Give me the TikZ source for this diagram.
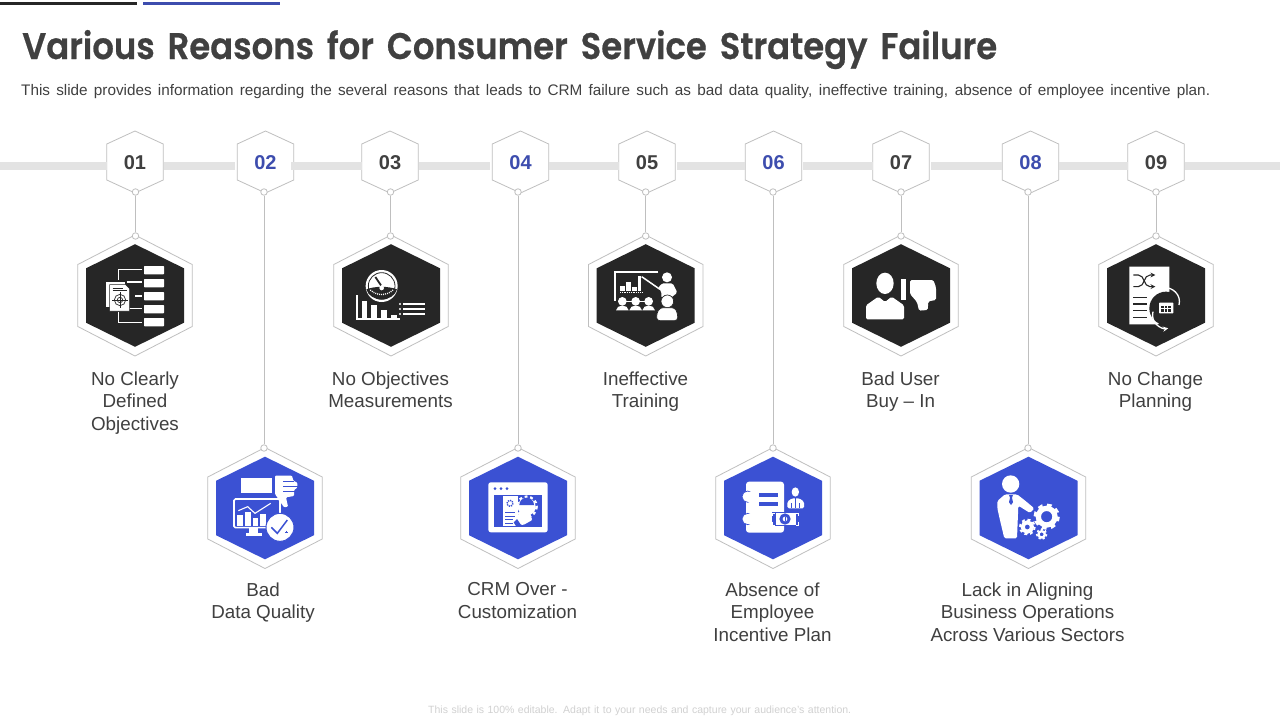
\documentclass[tikz,border=0pt]{standalone}
\usepackage{graphicx}
\usepackage{fontspec}
\setmainfont{Liberation Sans}
\newfontfamily\titlefont[WordSpace=1.6,FakeBold=0.6]{Poppins SemiBold}
\usetikzlibrary{positioning}

\definecolor{inkgray}{HTML}{404040}
\definecolor{linegray}{HTML}{BFBFBF}
\definecolor{bargray}{HTML}{E3E3E3}
\definecolor{darkfill}{HTML}{262626}
\definecolor{bluefill}{HTML}{3B51D3}
\definecolor{numblue}{HTML}{3D4DAE}

\tikzset{
  hexline/.style={draw=linegray,line width=.8pt,fill=white},
  pics/smallhex/.style={code={
    \path[hexline] (0,-31) -- (28.2,-18) -- (28.2,18) -- (0,31) -- (-28.2,18) -- (-28.2,-18) -- cycle;
  }},
  pics/bighex/.style={code={
    \path[hexline] (0,-60.5) -- (57.2,-31) -- (57.2,31) -- (0,60.5) -- (-57.2,31) -- (-57.2,-31) -- cycle;
    \fill[#1] (0,-51.3) -- (49,-27.2) -- (49,27.2) -- (0,51.3) -- (-49,27.2) -- (-49,-27.2) -- cycle;
  }},
  barseg/.style={bargray,line width=7.7pt},
  darknum/.style={font=\fontsize{20}{24}\selectfont\bfseries,text=inkgray},
  bluenum/.style={font=\fontsize{20}{24}\selectfont\bfseries,text=numblue},
  dot/.style={circle,draw=linegray,line width=.8pt,fill=white,minimum size=6.5pt,inner sep=0pt},
  reason/.style={align=center,anchor=north,text=inkgray,font=\fontsize{18.8}{22.6}\selectfont},
  wire/.style={draw=linegray,line width=.8pt},
  icon/.style={scale=1/3},
}

\begin{document}
\begin{tikzpicture}[x=1pt,y=-1pt]
  \useasboundingbox (0,0) rectangle (1280,720);
  \fill[white] (0,0) rectangle (1280,720);

  % top marks
  \fill[darkfill] (0,2.3) rectangle (137,5);
  \fill[numblue] (143,2.3) rectangle (280,5);

  % heading
  \node[anchor=base west,text=inkgray,inner sep=0pt] (title) at (22,59)
    {\resizebox{975pt}{\height}{\titlefont\fontsize{37}{42}\selectfont Various Reasons for Consumer Service Strategy Failure}};
  \node[anchor=base west,text=inkgray,inner sep=0pt] (subtitle) at (21,95.5)
    {\makebox[1189pt][s]{\fontsize{15.3}{18}\selectfont This slide provides information regarding the several reasons that leads to CRM failure such as bad data quality, ineffective training, absence of employee incentive plan.}};

  % number hexagons
  \path (135,162) pic {smallhex};
  \path (265.5,162) pic {smallhex};
  \path (390,162) pic {smallhex};
  \path (520.5,162) pic {smallhex};
  \path (647,162) pic {smallhex};
  \path (773.5,162) pic {smallhex};
  \path (901,162) pic {smallhex};
  \path (1030.5,162) pic {smallhex};
  \path (1156,162) pic {smallhex};

  % timeline bar
  \path[barseg,draw] (0,166) -- (107,166);
  \path[barseg,draw] (164,166) -- (235,166);
  \path[barseg,draw] (291,166) -- (362,166);
  \path[barseg,draw] (419,166) -- (490,166);
  \path[barseg,draw] (549,166) -- (619,166);
  \path[barseg,draw] (677,166) -- (745,166);
  \path[barseg,draw] (803,166) -- (873,166);
  \path[barseg,draw] (931,166) -- (1002,166);
  \path[barseg,draw] (1059,166) -- (1128,166);
  \path[barseg,draw] (1185,166) -- (1280,166);

  \node[darknum] (n1) at (135,163) {01};
  \node[bluenum] (n2) at (265.5,163) {02};
  \node[darknum] (n3) at (390,163) {03};
  \node[bluenum] (n4) at (520.5,163) {04};
  \node[darknum] (n5) at (647,163) {05};
  \node[bluenum] (n6) at (773.5,163) {06};
  \node[darknum] (n7) at (901,163) {07};
  \node[bluenum] (n8) at (1030.5,163) {08};
  \node[darknum] (n9) at (1156,163) {09};

  % picture hexagons
  \path (135,295.5) pic {bighex=darkfill};
  \path (265,508) pic {bighex=bluefill};
  \path (391,295.5) pic {bighex=darkfill};
  \path (518,508) pic {bighex=bluefill};
  \path (645.7,295.5) pic {bighex=darkfill};
  \path (773,508) pic {bighex=bluefill};
  \path (901,295.5) pic {bighex=darkfill};
  \path (1028.5,508) pic {bighex=bluefill};
  \path (1156,295.5) pic {bighex=darkfill};

  % connectors
  \node[dot] (a1) at (135.5,192) {};
  \node[dot] (a2) at (264,192) {};
  \node[dot] (a3) at (390.5,192) {};
  \node[dot] (a4) at (518,192) {};
  \node[dot] (a5) at (645.7,192) {};
  \node[dot] (a6) at (773,192) {};
  \node[dot] (a7) at (901,192) {};
  \node[dot] (a8) at (1028,192) {};
  \node[dot] (a9) at (1156,192) {};
  \node[dot] (b1) at (135.5,236) {};
  \node[dot] (b2) at (264,448) {};
  \node[dot] (b3) at (390.5,236) {};
  \node[dot] (b4) at (518,448) {};
  \node[dot] (b5) at (645.7,236) {};
  \node[dot] (b6) at (773,448) {};
  \node[dot] (b7) at (901,236) {};
  \node[dot] (b8) at (1028,448) {};
  \node[dot] (b9) at (1156,236) {};

  \path[wire]
  (a1) edge (b1)
  (a2) edge (b2)
  (a3) edge (b3)
  (a4) edge (b4)
  (a5) edge (b5)
  (a6) edge (b6)
  (a7) edge (b7)
  (a8) edge (b8)
  (a9) edge (b9)
  ;

  % icon 1: targets and list
  \begin{scope}[shift={(60,180)},icon]
    \fill[white,rounded corners=.6pt] (252,258) rectangle (312,283);
    \fill[white,rounded corners=.6pt] (252,297) rectangle (312,322);
    \fill[white,rounded corners=.6pt] (252,336) rectangle (312,361);
    \fill[white,rounded corners=.6pt] (252,375) rectangle (312,400);
    \fill[white,rounded corners=.6pt] (252,414) rectangle (312,439);
    \draw[white,line width=1.4pt] (247,269) -- (175,269) -- (175,300);
    \draw[white,line width=1.4pt] (200,306) -- (247,306);
    \draw[white,line width=1.4pt] (226,348) -- (245,348);
    \draw[white,line width=1.4pt] (205,386) -- (247,386);
    \draw[white,line width=1.4pt] (175,395) -- (175,427) -- (247,427);
    \fill[white] (138,305) -- (195,305) -- (195,380) -- (138,380) -- cycle;
    \draw[darkfill,fill=white,line width=.5pt] (149,314) -- (197,314) -- (209,326) -- (209,393) -- (149,393) -- cycle;
    \draw[darkfill,line width=.6pt] (158,325) -- (190,325) (158,332) -- (200,332);
    \draw[darkfill,line width=.7pt] (180,360) circle (17);
    \draw[darkfill,line width=.7pt] (180,360) circle (8);
    \draw[darkfill,line width=.7pt] (180,337) -- (180,383) (157,360) -- (203,360);
  \end{scope}

  % icon 2: bad chart
  \begin{scope}[shift={(200,440)},icon]
    \fill[white] (122,115) rectangle (215,160);
    \fill[white,rounded corners=1pt] (225,107) -- (276,107) -- (280,122) -- (292,128) -- (292,143) -- (282,150) -- (282,168) -- (258,172) -- (264,200) -- (252,202) -- (225,162) -- cycle;
    \draw[bluefill,line width=.8pt] (250,125) -- (282,125) (250,140) -- (294,140) (250,155) -- (284,155);
    \draw[white,line width=1.6pt,rounded corners=1.5pt] (102,177) rectangle (240,263);
    \fill[white] (112,226) rectangle (129,257);
    \fill[white] (135,216) rectangle (152,257);
    \fill[white] (158,234) rectangle (175,257);
    \fill[white] (181,222) rectangle (198,257);
    \draw[white,line width=1.1pt] (115,212) -- (143,200) -- (165,220) -- (212,190);
    \fill[white] (148,264) rectangle (175,280);
    \fill[white] (138,280) rectangle (186,288);
    \draw[bluefill,fill=white,line width=1pt] (240,262) circle (42);
    \draw[bluefill,line width=1.5pt] (214,262) -- (232,280) -- (262,240);
    \draw[bluefill,line width=.8pt] (259,272) -- (259,280) (255,276) -- (263,276);
  \end{scope}

  % icon 3: gauge and bars
  \begin{scope}[shift={(325,230)},icon]
    \fill[white] (170,168) circle (48);
    \draw[darkfill,line width=.8pt] (170,168) circle (40);
    \fill[darkfill] (124,178) .. controls (150,168) and (190,168) .. (216,178) .. controls (205,218) and (135,218) .. (124,178);
    \draw[white,line width=1.4pt,dash pattern=on .9pt off 1.1pt] (136,180) .. controls (155,198) and (185,198) .. (204,180);
    \fill[white] (170,174) circle (7);
    \draw[darkfill,line width=1.8pt] (151,141) -- (168,166);
    \draw[white,line width=1.7pt] (96,195) -- (96,268) -- (225,268);
    \fill[white] (110,213) rectangle (125,263);
    \fill[white] (138,225) rectangle (155,263);
    \fill[white] (167,240) rectangle (185,263);
    \fill[white] (197,255) rectangle (215,263);
    \fill[white] (225,222) circle (3.5);
    \fill[white] (225,237) circle (3.5);
    \fill[white] (225,252) circle (3.5);
    \draw[white,line width=1.3pt] (235,222) -- (300,222) (235,237) -- (300,237) (235,252) -- (300,252);
  \end{scope}

  % icon 4: settings window
  \begin{scope}[shift={(455,445)},icon]
    \fill[white,rounded corners=2.5pt] (100,112) rectangle (278,262);
    \fill[bluefill] (120,131) circle (4.5);
    \fill[bluefill] (138,131) circle (4.5);
    \fill[bluefill] (156,131) circle (4.5);
    \fill[bluefill] (117,151) rectangle (262,245);
    \fill[white] (144,153) rectangle (188,243);
    \draw[bluefill,line width=1.4pt,dash pattern=on 1.3pt off 1pt] (165,175) circle (9);
    \draw[bluefill,line width=.9pt] (150,202) -- (180,202) (150,213) -- (180,213) (150,224) -- (175,224) (150,235) -- (175,235);
    \fill[white] (215,185) circle (27);
    \draw[white,line width=2.4pt,dash pattern=on 2.8pt off 2.8pt] (215,185) circle (30);
    \fill[bluefill] (193,180) arc[start angle=180,end angle=360,radius=22];
    \fill[white,rounded corners=1pt] (182,222) -- (195,200) -- (225,205) -- (232,225) -- (205,240) -- (188,237) -- cycle;
    \fill[bluefill] (176,232) -- (186,222) -- (198,240) -- (184,245) -- cycle;
  \end{scope}

  % icon 5: presenter
  \begin{scope}[shift={(580,230)},icon]
    \draw[white,line width=1.7pt] (235,127) -- (105,127) -- (105,212);
    \fill[white] (121,168) rectangle (134,184);
    \fill[white] (139,157) rectangle (152,184);
    \fill[white] (157,171) rectangle (170,184);
    \fill[white] (174,139) rectangle (184,184);
    \draw[white,line width=1.1pt,dash pattern=on 1pt off .8pt] (120,188) -- (185,188);
    \draw[white,line width=1.5pt] (185,140) -- (240,178);
    \fill[white] (261,142) circle (15);
    \fill[white,rounded corners=1.5pt] (234,174) -- (246,160) -- (278,160) -- (292,188) -- (272,204) -- (244,204) -- (244,184) -- cycle;
    \fill[white] (127,214) circle (13);
    \fill[white] (167,214) circle (13);
    \fill[white] (206,214) circle (13);
    \fill[white] (108,241) .. controls (110,222) and (144,222) .. (146,241) -- cycle;
    \fill[white] (148,241) .. controls (150,222) and (184,222) .. (186,241) -- cycle;
    \fill[white] (187,241) .. controls (189,222) and (223,222) .. (225,241) -- cycle;
    \draw[white,line width=.9pt] (138,214) -- (156,214) (178,214) -- (195,214);
    \draw[darkfill,fill=white,line width=.7pt] (262,214) circle (19);
    \draw[darkfill,fill=white,line width=.7pt,rounded corners=3pt] (230,272) -- (230,250) -- (240,233) -- (284,233) -- (293,250) -- (293,272) -- cycle;
  \end{scope}

  % icon 6: employee notebook
  \begin{scope}[shift={(710,445)},icon]
    \fill[white,rounded corners=3pt] (108,110) rectangle (222,263);
    \draw[bluefill,fill=white,line width=.7pt] (113,155) circle (17);
    \draw[bluefill,fill=white,line width=.7pt] (113,222) circle (17);
    \fill[white] (113,140) rectangle (132,170);
    \fill[white] (113,207) rectangle (132,237);
    \fill[bluefill] (146,145) rectangle (205,156);
    \fill[bluefill] (146,172) rectangle (205,184);
    \fill[white] (256,141) ellipse (11 and 14);
    \fill[white,rounded corners=1.5pt] (232,190) -- (232,170) -- (246,160) -- (268,160) -- (282,170) -- (282,190) -- cycle;
    \draw[bluefill,line width=.5pt] (256,160) -- (256,190) (244,175) -- (244,190) (268,175) -- (268,190);
    \fill[bluefill] (186,202) rectangle (268,242);
    \draw[white,line width=1pt] (195,205) -- (188,205) -- (188,214) (188,230) -- (188,240) -- (195,240);
    \draw[white,line width=1pt] (258,205) -- (266,205) -- (266,214) (266,230) -- (266,240) -- (258,240);
    \fill[white] (198,205) rectangle (258,240);
    \fill[bluefill] (225,222) circle (17);
    \fill[white] (225,222) circle (7);
    \draw[bluefill,line width=.6pt] (225,216) -- (225,228);
  \end{scope}

  % icon 7: thumb down user
  \begin{scope}[shift={(835,230)},icon]
    \fill[white] (150,160) ellipse (26 and 32);
    \fill[white,rounded corners=1.5pt] (93,268) -- (93,226) -- (130,200) -- (150,216) -- (170,200) -- (207,226) -- (207,268) -- cycle;
    \fill[white] (197,148) rectangle (214,210);
    \fill[white,rounded corners=1.5pt] (225,150) -- (295,150) -- (303,172) -- (303,210) -- (280,214) -- (278,240) -- (252,242) -- (246,216) -- (225,192) -- cycle;
  \end{scope}

  % icon 8: manager and gears
  \begin{scope}[shift={(965,445)},icon]
    \fill[white] (137,117) circle (26);
    \fill[white,rounded corners=1.5pt] (97,168) -- (120,148) -- (156,148) -- (178,165) -- (208,190) -- (195,204) -- (160,182) -- (156,280) -- (118,280) -- (106,230) -- (97,190) -- cycle;
    \fill[bluefill] (132,150) -- (144,150) -- (141,158) -- (144,172) -- (138,180) -- (132,172) -- (135,158) -- cycle;
    \draw[white,line width=5.3pt] (245,215) circle (25);
    \draw[white,line width=3pt,dash pattern=on 4.6pt off 4.56pt] (245,215) circle (35);
    \draw[white,line width=4pt] (187,246) circle (14);
    \draw[white,line width=2pt,dash pattern=on 2.9pt off 2.85pt] (187,246) circle (22);
    \draw[white,line width=2.3pt] (230,268) circle (9.5);
    \draw[white,line width=1.5pt,dash pattern=on 2.2pt off 2.2pt] (230,268) circle (15);
  \end{scope}

  % icon 9: change plan
  \begin{scope}[shift={(1090,230)},icon]
    \fill[white] (118,110) -- (238,110) -- (238,200) -- (205,283) -- (118,283) -- cycle;
    \draw[darkfill,line width=1.1pt,->,>=stealth] (130,135) -- (145,135) .. controls (165,135) and (160,170) .. (180,170) -- (196,170);
    \draw[darkfill,line width=1.1pt,->,>=stealth] (130,170) -- (145,170) .. controls (165,170) and (160,135) .. (180,135) -- (196,135);
    \draw[darkfill,line width=1.1pt] (130,203) -- (172,203) (130,222) -- (172,222) (130,242) -- (172,242) (130,262) -- (172,262);
    \fill[darkfill] (228,235) circle (50);
    \draw[white,line width=1.3pt,->,>=stealth] (189,245) arc[start angle=195,end angle=80,radius=40];
    \draw[white,line width=1.3pt,->,>=stealth] (267,225) arc[start angle=15,end angle=-100,radius=40];
    \fill[white,rounded corners=.6pt] (207,218) rectangle (250,250);
    \fill[darkfill] (213,228) rectangle (244,245);
    \draw[white,line width=.7pt] (223,228) -- (223,245) (233,228) -- (233,245) (213,236) -- (244,236);
  \end{scope}

  % labels
  \node[reason] (l1) at (135,368) {No Clearly\\Defined\\Objectives};
  \node[reason] (l2) at (263,579) {Bad\\Data Quality};
  \node[reason] (l3) at (390.5,368) {No Objectives\\Measurements};
  \node[reason] (l4) at (517.5,579) {CRM Over -\\Customization};
  \node[reason] (l5) at (645.5,368) {Ineffective\\Training};
  \node[reason] (l6) at (772.5,579) {Absence of\\Employee\\Incentive Plan};
  \node[reason] (l7) at (900.5,368) {Bad User\\Buy -- In};
  \node[reason] (l8) at (1027.5,579) {Lack in Aligning\\Business Operations\\Across Various Sectors};
  \node[reason] (l9) at (1155.5,368) {No Change\\Planning};

  \node[anchor=base west,text=black!18,inner sep=0pt] (footer) at (428,713)
    {\makebox[423pt][s]{\fontsize{10.5}{12}\selectfont This slide is 100\% editable. Adapt it to your needs and capture your audience's attention.}};
\end{tikzpicture}
\end{document}
